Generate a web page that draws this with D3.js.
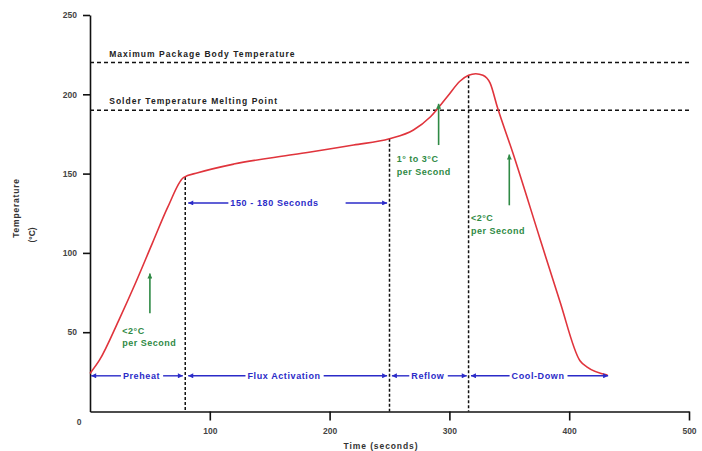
<!DOCTYPE html>
<html>
<head>
<meta charset="utf-8">
<script src="https://cdn.jsdelivr.net/npm/d3@7"></script>
<style>
  body { margin: 0; background: #fff; }
  svg text { font-family: "Liberation Sans", Arial, sans-serif; font-weight: bold; }
</style>
</head>
<body>
<div id="chart"></div>
<script>
// Reflow temperature profile
const profileTime = [0, 8, 24, 38, 52, 65, 78, 90, 120, 170, 220, 250, 270, 284, 298, 309, 316, 322, 328, 334, 340, 353, 376, 392, 409, 415, 432];
const profileTemp = [24, 32.5, 57.5, 81, 106, 129, 147.5, 150.5, 156, 162, 168, 172, 177.5, 185.7, 198.3, 208.4, 212, 213, 212, 207, 192, 163, 108, 70, 32, 28, 23];

const xTicks = [100, 200, 300, 400, 500];
const yTicks = [50, 100, 150, 200, 250];

// horizontal limit lines
const limitTemps = [220, 190];
const limitLabels = ["Maximum Package Body Temperature", "Solder Temperature Melting Point"];

// phase boundaries (vertical dotted lines)
const phaseBounds = [79.5, 250, 316];

// phase arrows along the bottom
const phaseNames = ["Preheat", "Flux Activation", "Reflow", "Cool-Down"];
const phaseStart = [1, 82, 252, 318];
const phaseEnd = [77.5, 248, 314.5, 432.5];
const phaseLabelAt = [43, 162, 282, 374];
const phaseArrowTemp = 22.5;

// soak time arrow
const soakLabel = "150 - 180 Seconds";
const soakStart = 82, soakEnd = 248, soakLabelAt = 154, soakTemp = 131.5;

// ramp rate notes (green)
const rampTime = [50, 291, 350];
const rampFrom = [62, 168, 130];
const rampTo = [87, 194, 162];
const rampLines = [["<2°C", "per Second"], ["1° to 3°C", "per Second"], ["<2°C", "per Second"]];
const rampTextTime = [27, 256, 318];
const rampTextTemp = [51, 159, 122];

const width = 702, height = 451;
const blue = "#2b2bc8", green = "#2f8a45", red = "#e0343c";

const svg = d3.select("#chart").append("svg")
  .attr("width", width)
  .attr("height", height);

const x = d3.scaleLinear().domain([0, 500]).range([90, 689]);
const y = d3.scaleLinear().domain([0, 250]).range([411.5, 15]);

const defs = svg.append("defs");
function marker(id, color, w, h) {
  defs.append("marker")
    .attr("id", id)
    .attr("viewBox", "0 0 10 10")
    .attr("refX", 10).attr("refY", 5)
    .attr("markerUnits", "userSpaceOnUse")
    .attr("markerWidth", w).attr("markerHeight", h)
    .attr("orient", "auto-start-reverse")
    .append("path")
    .attr("d", "M0,0L10,5L0,10z")
    .attr("fill", color);
}
marker("blueHead", blue, 8, 5);
marker("greenHead", green, 7, 5);

// Axes
const yAxis = svg.append("g")
  .attr("transform", "translate(" + x(0) + ",0)")
  .call(d3.axisLeft(y).tickValues(yTicks).tickSize(7).tickSizeOuter(0).tickPadding(6));
const xAxis = svg.append("g")
  .attr("transform", "translate(0," + y(0) + ")")
  .call(d3.axisBottom(x).tickValues(xTicks).tickSize(9).tickSizeOuter(0).tickPadding(7));
[xAxis, yAxis].forEach((g) => {
  g.select(".domain").attr("stroke", "#111").attr("stroke-width", 1.6);
  g.selectAll(".tick line").attr("stroke", "#111").attr("stroke-width", 1.6);
  g.selectAll(".tick text")
    .attr("fill", "#444")
    .style("font-size", "8.5px")
    .style("font-family", "Liberation Sans, Arial, sans-serif")
    .style("font-weight", "bold");
});
svg.append("text")
  .attr("x", 79).attr("y", 425)
  .attr("text-anchor", "middle")
  .attr("fill", "#444")
  .style("font-size", "8.5px")
  .text("0");

// axis titles
svg.append("text")
  .attr("transform", "translate(19,208) rotate(-90)")
  .attr("text-anchor", "middle")
  .attr("fill", "#333")
  .style("font-size", "8.5px")
  .style("letter-spacing", "0.8px")
  .text("Temperature");
svg.append("text")
  .attr("transform", "translate(35,235) rotate(-90)")
  .attr("text-anchor", "middle")
  .attr("fill", "#333")
  .style("font-size", "8.5px")
  .text("(°C)");
svg.append("text")
  .attr("x", 381).attr("y", 449)
  .attr("text-anchor", "middle")
  .attr("fill", "#333")
  .style("font-size", "8.5px")
  .style("letter-spacing", "0.9px")
  .text("Time (seconds)");

// limit lines
svg.selectAll(".limit")
  .data(limitTemps)
  .join("line")
  .attr("class", "limit")
  .attr("x1", x(0)).attr("x2", x(500))
  .attr("y1", (d) => y(d)).attr("y2", (d) => y(d))
  .attr("stroke", "#111")
  .attr("stroke-width", 1.5)
  .attr("stroke-dasharray", "4,3");
svg.selectAll(".limit-label")
  .data(limitTemps)
  .join("text")
  .attr("class", "limit-label")
  .attr("x", x(16))
  .attr("y", (d) => y(d) - 6)
  .attr("fill", "#222")
  .style("font-size", "8.5px")
  .style("letter-spacing", "1.05px")
  .text((d, i) => limitLabels[i]);

// temperature at a time, from the profile
function tempAt(t) {
  const i = d3.bisectRight(profileTime, t);
  const t0 = profileTime[i - 1], t1 = profileTime[i];
  return profileTemp[i - 1] + (profileTemp[i] - profileTemp[i - 1]) * (t - t0) / (t1 - t0);
}

// phase boundaries
svg.selectAll(".bound")
  .data(phaseBounds)
  .join("line")
  .attr("class", "bound")
  .attr("x1", (d) => x(d)).attr("x2", (d) => x(d))
  .attr("y1", (d) => y(tempAt(d))).attr("y2", y(0))
  .attr("stroke", "#111")
  .attr("stroke-width", 1.5)
  .attr("stroke-dasharray", "3,2");

// profile curve
const profile = profileTime.map((t, i) => [t, profileTemp[i]]);
svg.append("path")
  .datum(profile)
  .attr("fill", "none")
  .attr("stroke", red)
  .attr("stroke-width", 1.6)
  .attr("d", d3.line().x((d) => x(d[0])).y((d) => y(d[1])).curve(d3.curveMonotoneX));

// double arrow with a label in the middle
function labelledArrow(start, end, at, temp, label, gapRight) {
  const g = svg.append("g");
  const txt = g.append("text")
    .attr("x", x(at)).attr("y", y(temp))
    .attr("dy", "0.35em")
    .attr("text-anchor", "middle")
    .attr("fill", blue)
    .style("font-size", "9px")
    .style("letter-spacing", "0.6px")
    .text(label);
  const bb = txt.node().getBBox();
  g.append("line")
    .attr("x1", bb.x - 2).attr("x2", x(start))
    .attr("y1", y(temp)).attr("y2", y(temp))
    .attr("stroke", blue).attr("stroke-width", 1.4)
    .attr("marker-end", "url(#blueHead)");
  g.append("line")
    .attr("x1", bb.x + bb.width + gapRight).attr("x2", x(end))
    .attr("y1", y(temp)).attr("y2", y(temp))
    .attr("stroke", blue).attr("stroke-width", 1.4)
    .attr("marker-end", "url(#blueHead)");
}
phaseNames.forEach((name, i) => {
  labelledArrow(phaseStart[i], phaseEnd[i], phaseLabelAt[i], phaseArrowTemp, name, 3);
});
labelledArrow(soakStart, soakEnd, soakLabelAt, soakTemp, soakLabel, 27);

// ramp rate arrows and notes
rampTime.forEach((t, i) => {
  svg.append("line")
    .attr("x1", x(t)).attr("x2", x(t))
    .attr("y1", y(rampFrom[i])).attr("y2", y(rampTo[i]))
    .attr("stroke", green).attr("stroke-width", 1.6)
    .attr("marker-end", "url(#greenHead)");
  const txt = svg.append("text")
    .attr("x", x(rampTextTime[i]))
    .attr("y", y(rampTextTemp[i]))
    .attr("fill", green)
    .style("font-size", "9px")
    .style("letter-spacing", "0.5px");
  rampLines[i].forEach((line, j) => {
    txt.append("tspan")
      .attr("x", x(rampTextTime[i]))
      .attr("dy", j === 0 ? "0.35em" : "1.4em")
      .text(line);
  });
});
</script>
</body>
</html>
